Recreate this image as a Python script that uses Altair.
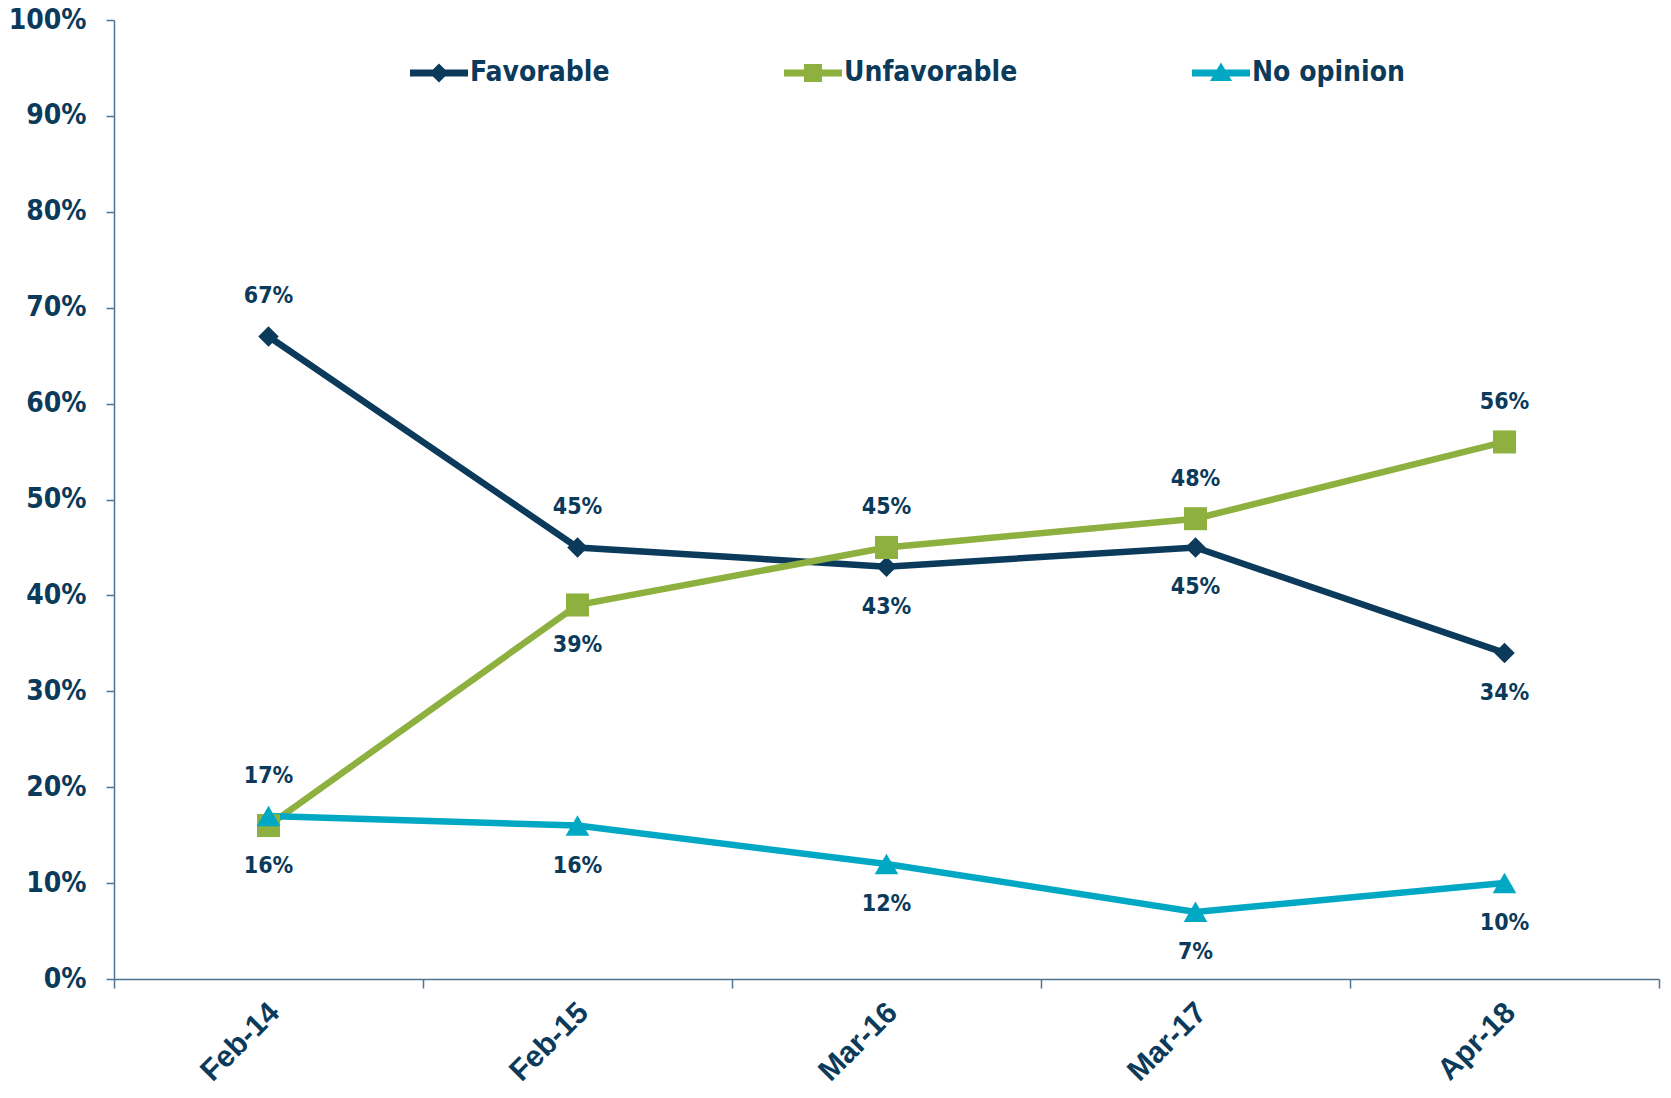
import altair as alt
import pandas as pd

# ---- data ----
dates = ["Feb-14", "Feb-15", "Mar-16", "Mar-17", "Apr-18"]
series = ["Favorable", "Unfavorable", "No opinion"]
favorable = [67, 45, 43, 45, 34]
unfavorable = [16, 39, 45, 48, 56]
no_opinion = [17, 16, 12, 7, 10]
y_ticks = [0, 10, 20, 30, 40, 50, 60, 70, 80, 90, 100]

colors = ["#0B3A5B", "#8DB03F", "#00A8C4"]
TEXT = "#0B3A5B"
AXIS = "#4F7390"
NARROW = "Liberation Sans Narrow, DejaVu Sans Condensed, Liberation Sans"
WIDE = "Liberation Sans"

values = {"Favorable": favorable, "Unfavorable": unfavorable, "No opinion": no_opinion}
rows = []
for s in series:
    for i, d in enumerate(dates):
        rows.append({"date": d, "series": s, "value": values[s][i]})
df = pd.DataFrame(rows)


# label side: top series at a date -> above; a series sitting just above another -> above; else below
def side(row):
    others = [values[o][dates.index(row["date"])] for o in series if o != row["series"]]
    v = row["value"]
    if v >= max(others):
        return "above"
    if any(0 < v - o <= 2 for o in others):
        return "above"
    return "below"


df["side"] = df.apply(side, axis=1)
df["label"] = df["value"].astype(str) + "%"

W, H = 1545, 959

x_enc = alt.X(
    "date:N",
    sort=dates,
    bandPosition=0.5,
    scale=alt.Scale(type="band", paddingInner=0, paddingOuter=0),
    axis=alt.Axis(
        title=None, labelAngle=-45, tickBand="extent", tickSize=9, labelPadding=9,
        labelOffset=-5, labelFont=WIDE, labelFontSize=30, labelFontWeight="bold", labelColor=TEXT,
        domainColor=AXIS, tickColor=AXIS, domainWidth=1.5, tickWidth=1.5, grid=False,
    ),
)
y_enc = alt.Y(
    "value:Q",
    scale=alt.Scale(domain=[0, 100], nice=False),
    axis=alt.Axis(
        title=None, values=y_ticks, labelExpr="datum.value + '%'", grid=False,
        tickSize=8, labelPadding=20, labelFont=NARROW, labelFontSize=28,
        labelFontWeight="bold", labelColor=TEXT, domainColor=AXIS, tickColor=AXIS,
        domainWidth=1.5, tickWidth=1.5,
    ),
)

base = alt.Chart(df)

marker_shapes = {"Favorable": ("diamond", 420), "Unfavorable": ("square", 530), "No opinion": ("triangle-up", 560)}
line_layers = []
point_layers = []
for s, c in zip(series, colors):
    shp, sz = marker_shapes[s]
    sub = base.transform_filter(alt.datum.series == s)
    line_layers.append(sub.mark_line(strokeWidth=6.5, color=c).encode(x=x_enc, y=y_enc))
    point_layers.append(
        sub.mark_point(filled=True, opacity=1, shape=shp, size=sz, color=c).encode(x=x_enc, y=y_enc)
    )

line_seg = "M-1,-0.12H1V0.12H-1Z"
legend_paths = [
    line_seg + "M0,-0.33L0.33,0L0,0.33L-0.33,0Z",
    line_seg + "M-0.31,-0.31H0.31V0.31H-0.31Z",
    line_seg + "M0,-0.36L0.38,0.28H-0.38Z",
]
legend_def = alt.Legend(
    title=None, orient="none", legendX=296, legendY=24, direction="horizontal",
    symbolSize=3364, symbolStrokeWidth=0, symbolOpacity=1, labelFont=NARROW, labelFontSize=28,
    labelFontWeight="bold", labelColor=TEXT, labelLimit=400, columnPadding=174, labelOffset=2,
    padding=0,
)
legend_layer = (
    base.transform_filter("false")
    .mark_point(filled=True, opacity=1)
    .encode(
        x=x_enc, y=y_enc,
        color=alt.Color("series:N", scale=alt.Scale(domain=series, range=colors), legend=legend_def),
        shape=alt.Shape("series:N", scale=alt.Scale(domain=series, range=legend_paths), legend=legend_def),
    )
)

text_common = dict(font=NARROW, fontSize=23, fontWeight="bold", color=TEXT, baseline="middle", align="center")
labels_above = base.transform_filter(alt.datum.side == "above").mark_text(dy=-40, **text_common).encode(
    x=x_enc, y=y_enc, text="label:N"
)
labels_below = base.transform_filter(alt.datum.side == "below").mark_text(dy=40, **text_common).encode(
    x=x_enc, y=y_enc, text="label:N"
)

chart = (
    alt.layer(*line_layers, *point_layers, labels_above, labels_below, legend_layer)
    .properties(
        width=W, height=H,
        autosize=alt.AutoSizeParams(type="none"),
        padding={"left": 106, "top": 12, "right": 4, "bottom": 106},
    )
    .configure_view(stroke=None)
)

chart.save("out.html", embed_options={"renderer": "svg", "actions": False})
